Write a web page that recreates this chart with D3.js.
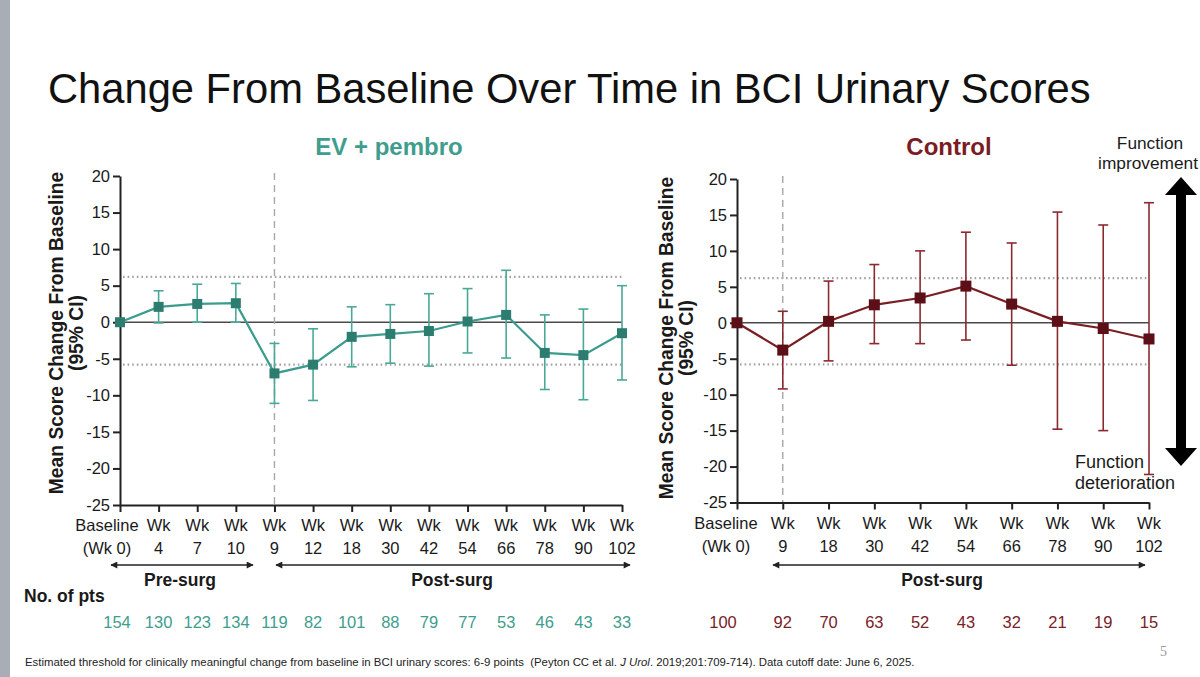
<!DOCTYPE html>
<html>
<head>
<meta charset="utf-8">
<script src="https://cdn.jsdelivr.net/npm/d3@7"></script>
<style>
  html, body { margin: 0; padding: 0; background: #fff; }
  svg { display: block; font-family: "Liberation Sans", Arial, sans-serif; }
</style>
</head>
<body>
<svg id="chart" width="1200" height="677"></svg>
<script>
// ---------- DATA ----------
const yTicks = [20, 15, 10, 5, 0, -5, -10, -15, -20, -25];
const thresholds = [6.2, -5.8];

const evTicks = ["Baseline|(Wk 0)", "Wk|4", "Wk|7", "Wk|10", "Wk|9", "Wk|12", "Wk|18",
                 "Wk|30", "Wk|42", "Wk|54", "Wk|66", "Wk|78", "Wk|90", "Wk|102"];
const evMean = [0, 2.1, 2.5, 2.6, -7.0, -5.8, -2.0, -1.6, -1.2, 0.1, 1.0, -4.2, -4.5, -1.5];
const evLow  = [null, -0.1, 0.0, 0.0, -11.1, -10.7, -6.1, -5.6, -6.0, -4.2, -4.9, -9.2, -10.6, -7.9];
const evHigh = [null, 4.3, 5.2, 5.3, -2.9, -0.9, 2.1, 2.4, 3.9, 4.6, 7.1, 1.0, 1.8, 5.0];
const evN    = [154, 130, 123, 134, 119, 82, 101, 88, 79, 77, 53, 46, 43, 33];
const evSurgIdx = 4;

const ctlTicks = ["Baseline|(Wk 0)", "Wk|9", "Wk|18", "Wk|30", "Wk|42", "Wk|54",
                  "Wk|66", "Wk|78", "Wk|90", "Wk|102"];
const ctlMean = [0, -3.8, 0.2, 2.5, 3.45, 5.1, 2.6, 0.2, -0.8, -2.25];
const ctlLow  = [null, -9.2, -5.3, -2.9, -2.9, -2.4, -5.9, -14.8, -15.0, -21.1];
const ctlHigh = [null, 1.6, 5.8, 8.1, 10.0, 12.6, 11.1, 15.4, 13.6, 16.7];
const ctlN    = [100, 92, 70, 63, 52, 43, 32, 21, 19, 15];
const ctlSurgIdx = 1;

// ---------- DRAW ----------
const svg = d3.select("#chart");
const TEXT = "#1a1a1a";

// left slide strip
svg.append("rect").attr("x", 0).attr("y", 0).attr("width", 10).attr("height", 677).attr("fill", "#a9adb6");

// arrow markers
const defs = svg.append("defs");
["start", "end"].forEach(k => {
  defs.append("marker")
    .attr("id", "arr-" + k)
    .attr("viewBox", "0 0 10 10")
    .attr("refX", k === "end" ? 9 : 1).attr("refY", 5)
    .attr("markerWidth", 9).attr("markerHeight", 7)
    .attr("markerUnits", "userSpaceOnUse")
    .attr("orient", "auto")
    .append("path")
    .attr("d", k === "end" ? "M0,0 L10,5 L0,10 Z" : "M10,0 L0,5 L10,10 Z")
    .attr("fill", "#222");
});

// Title
svg.append("text").attr("x", 48).attr("y", 103)
  .attr("font-size", 41.7).attr("fill", "#111")
  .text("Change From Baseline Over Time in BCI Urinary Scores");

function panel(cfg) {
  const n = cfg.ticks.length;
  const x = d3.scalePoint().domain(d3.range(n)).range([cfg.x0, cfg.x1]);
  const y = d3.scaleLinear().domain([-25, 20]).range([cfg.yB, cfg.yT]);
  const g = svg.append("g");

  // subtitle
  g.append("text").attr("x", cfg.subX).attr("y", 155).attr("text-anchor", "middle")
    .attr("font-size", 24).attr("font-weight", "bold").attr("fill", cfg.titleColor)
    .text(cfg.title);

  // y label
  const yl = g.append("text").attr("transform", `translate(${cfg.ylX},${cfg.ylY}) rotate(-90)`)
    .attr("text-anchor", "middle").attr("font-size", 19.3).attr("font-weight", "bold").attr("fill", TEXT);
  yl.append("tspan").attr("x", 0).attr("dy", 0).text("Mean Score Change From Baseline");
  yl.append("tspan").attr("x", 0).attr("dy", 20).text("(95% CI)");

  // threshold dotted lines
  g.selectAll(".thr").data(thresholds).join("line")
    .attr("x1", cfg.x0 + 3).attr("x2", cfg.x1)
    .attr("y1", d => y(d)).attr("y2", d => y(d))
    .attr("stroke", "#a3a3a3").attr("stroke-width", 2.2).attr("stroke-dasharray", "1.6,3");

  // zero line
  g.append("line").attr("x1", cfg.x0).attr("x2", cfg.x1).attr("y1", y(0)).attr("y2", y(0))
    .attr("stroke", "#4a4a4a").attr("stroke-width", 1.6);

  // surgery dashed line
  g.append("line").attr("x1", x(cfg.surg)).attr("x2", x(cfg.surg))
    .attr("y1", y(20) - 3).attr("y2", y(-25))
    .attr("stroke", "#a8a8a8").attr("stroke-width", 1.4).attr("stroke-dasharray", "7,5");

  // axes
  const ya = g.append("g").attr("transform", `translate(${cfg.x0},0)`)
    .call(d3.axisLeft(y).tickValues(yTicks).tickFormat(d => String(d))
      .tickSize(7).tickSizeOuter(0).tickPadding(3));
  ya.selectAll("text").attr("font-size", 16.5).attr("fill", TEXT).attr("font-family", "Liberation Sans, Arial, sans-serif");
  ya.select(".domain").attr("stroke", "#222").attr("stroke-width", 2);
  ya.selectAll(".tick line").attr("stroke", "#222").attr("stroke-width", 2);

  const xa = g.append("g").attr("transform", `translate(0,${cfg.yB})`)
    .call(d3.axisBottom(x).tickSize(7).tickSizeOuter(0).tickFormat(""));
  xa.select(".domain").attr("stroke", "#222").attr("stroke-width", 2.2);
  xa.selectAll(".tick line").attr("stroke", "#222").attr("stroke-width", 2);

  // x tick labels (two lines)
  const idx = d3.range(n);
  const lx = i => x(i) + (i === 0 ? cfg.baseOff : 0);
  g.selectAll(".xl1").data(idx).join("text")
    .attr("x", lx).attr("y", cfg.yB + 26).attr("text-anchor", "middle")
    .attr("font-size", 16.5).attr("fill", TEXT)
    .text(i => cfg.ticks[i].split("|")[0]);
  g.selectAll(".xl2").data(idx).join("text")
    .attr("x", lx).attr("y", cfg.yB + 49).attr("text-anchor", "middle")
    .attr("font-size", 16.5).attr("fill", TEXT)
    .text(i => cfg.ticks[i].split("|")[1]);

  // phase arrows
  cfg.phases.forEach(p => {
    g.append("line").attr("x1", p.a).attr("x2", p.b).attr("y1", 565).attr("y2", 565)
      .attr("stroke", "#222").attr("stroke-width", 1.3)
      .attr("marker-start", "url(#arr-start)").attr("marker-end", "url(#arr-end)");
    g.append("text").attr("x", p.tx).attr("y", 586).attr("text-anchor", "middle")
      .attr("font-size", 17.5).attr("font-weight", "bold").attr("fill", TEXT).text(p.label);
  });

  // counts
  g.selectAll(".cnt").data(idx).join("text")
    .attr("x", i => x(i) + (i === 0 ? cfg.cntOff : 0)).attr("y", 628).attr("text-anchor", "middle")
    .attr("font-size", 16.5).attr("fill", cfg.cntColor)
    .text(i => cfg.nums[i]);

  // error bars
  const eb = idx.filter(i => cfg.low[i] !== null);
  const cap = 5;
  g.selectAll(".ebv").data(eb).join("line")
    .attr("x1", i => x(i)).attr("x2", i => x(i))
    .attr("y1", i => y(cfg.low[i])).attr("y2", i => y(cfg.high[i]))
    .attr("stroke", cfg.errColor).attr("stroke-width", 1.6);
  g.selectAll(".ebt").data(eb).join("line")
    .attr("x1", i => x(i) - cap).attr("x2", i => x(i) + cap)
    .attr("y1", i => y(cfg.high[i])).attr("y2", i => y(cfg.high[i]))
    .attr("stroke", cfg.errColor).attr("stroke-width", 1.6);
  g.selectAll(".ebb").data(eb).join("line")
    .attr("x1", i => x(i) - cap).attr("x2", i => x(i) + cap)
    .attr("y1", i => y(cfg.low[i])).attr("y2", i => y(cfg.low[i]))
    .attr("stroke", cfg.errColor).attr("stroke-width", 1.6);

  // mean line
  g.append("path").datum(idx)
    .attr("d", d3.line().x(i => x(i)).y(i => y(cfg.mean[i])))
    .attr("fill", "none").attr("stroke", cfg.lineColor).attr("stroke-width", 2.2);

  // markers
  const s = cfg.mk;
  g.selectAll(".mk").data(idx).join("rect")
    .attr("x", i => x(i) - s / 2).attr("y", i => y(cfg.mean[i]) - s / 2)
    .attr("width", s).attr("height", s)
    .attr("fill", cfg.mkColor);
}

panel({
  title: "EV + pembro", titleColor: "#3f9d8e", subX: 389,
  ticks: evTicks, mean: evMean, low: evLow, high: evHigh, nums: evN, surg: evSurgIdx,
  x0: 120, x1: 622, yT: 176, yB: 505,
  ylX: 63, ylY: 333, baseOff: -13, cntOff: -3,
  lineColor: "#3a9c8c", errColor: "#4aa898", mkColor: "#2c7d70", cntColor: "#3f9d8e", mk: 10,
  phases: [
    { a: 111, b: 253, tx: 180, label: "Pre-surg" },
    { a: 276, b: 630, tx: 452, label: "Post-surg" }
  ]
});

panel({
  title: "Control", titleColor: "#7a1c22", subX: 949,
  ticks: ctlTicks, mean: ctlMean, low: ctlLow, high: ctlHigh, nums: ctlN, surg: ctlSurgIdx,
  x0: 737, x1: 1149, yT: 179, yB: 502.5,
  ylX: 673, ylY: 338, baseOff: -11, cntOff: -14,
  lineColor: "#7a1e24", errColor: "#8a2a30", mkColor: "#5c0f16", cntColor: "#7a2228", mk: 11,
  phases: [
    { a: 773, b: 1145, tx: 942, label: "Post-surg" }
  ]
});

// No. of pts
svg.append("text").attr("x", 24).attr("y", 602).attr("font-size", 17.5)
  .attr("font-weight", "bold").attr("fill", TEXT).text("No. of pts");

// Function improvement / deterioration annotation
svg.append("text").attr("x", 1150).attr("y", 149).attr("text-anchor", "middle")
  .attr("font-size", 17.3).attr("fill", TEXT).text("Function");
svg.append("text").attr("x", 1198).attr("y", 169).attr("text-anchor", "end")
  .attr("font-size", 17.3).attr("fill", TEXT).text("improvement");
svg.append("text").attr("x", 1075).attr("y", 468)
  .attr("font-size", 18).attr("fill", TEXT).text("Function");
svg.append("text").attr("x", 1075).attr("y", 489)
  .attr("font-size", 18).attr("fill", TEXT).text("deterioration");

// big double arrow
const ax = 1181, aTop = 177, aBot = 466, hw = 16, sw = 5, hh = 18;
svg.append("path")
  .attr("d", `M${ax},${aTop} L${ax + hw},${aTop + hh} L${ax + sw},${aTop + hh} L${ax + sw},${aBot - hh}
              L${ax + hw},${aBot - hh} L${ax},${aBot} L${ax - hw},${aBot - hh} L${ax - sw},${aBot - hh}
              L${ax - sw},${aTop + hh} L${ax - hw},${aTop + hh} Z`)
  .attr("fill", "#000");

// footnote
const fn = svg.append("text").attr("x", 25).attr("y", 666).attr("font-size", 11.4).attr("fill", "#222");
fn.append("tspan").text("Estimated threshold for clinically meaningful change from baseline in BCI urinary scores: 6-9 points\u00a0 (Peyton CC et al. ");
fn.append("tspan").attr("font-style", "italic").text("J Urol");
fn.append("tspan").text(". 2019;201:709-714). Data cutoff date: June 6, 2025.");

// page number
svg.append("text").attr("x", 1160).attr("y", 656).attr("font-size", 14)
  .attr("font-family", "Liberation Serif, serif").attr("fill", "#999").text("5");
</script>
</body>
</html>
